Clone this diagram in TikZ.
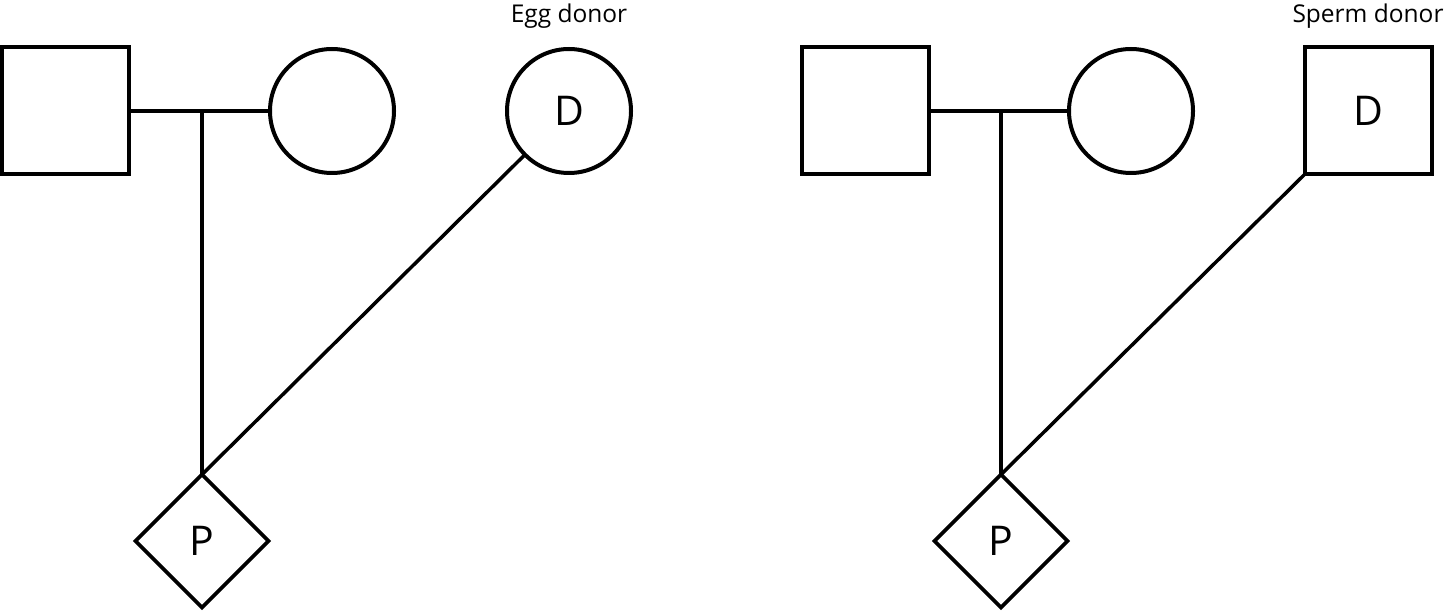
\documentclass[tikz,border=0pt]{standalone}
\usepackage{fontspec}
\setmainfont{Open Sans}
\usetikzlibrary{shapes.geometric}
\begin{document}
\begin{tikzpicture}[x=1pt,y=-1pt,
  sym/.style={draw=black,line width=4pt,inner sep=0pt,outer sep=0pt},
  sq/.style={sym,rectangle,minimum size=127pt},
  ci/.style={sym,circle,minimum size=124pt},
  dm/.style={sym,diamond,minimum size=133pt,line width=3.6pt},
  lbl/.style={font=\fontsize{41}{41}\selectfont},
  caption/.style={font=\fontsize{24.5}{26}\selectfont,inner sep=0pt},
  ln/.style={line width=3.5pt}]
\useasboundingbox (0,0) rectangle (1450,612);
% left pedigree
\node[sq] (F1) at (65.5,111) {};
\node[ci] (M1) at (332,111) {};
\node[ci,lbl] (D1) at (569,111) {D};
\node[dm,lbl] (P1) at (202,541) {P};
\node[caption] (L1) at (569,16) {Egg donor};
\coordinate (m1) at (202,111);
\draw[ln] (F1.east) -- (M1.west);
\draw[ln] (m1) -- (P1.north);
\draw[ln] (P1.north) -- (D1);
% right pedigree
\node[sq] (F2) at (865.5,111) {};
\node[ci] (M2) at (1131,111) {};
\node[sq,lbl] (D2) at (1368,111) {D};
\node[dm,lbl] (P2) at (1001,541) {P};
\node[caption] (L2) at (1368,16) {Sperm donor};
\coordinate (m2) at (1001,111);
\draw[ln] (F2.east) -- (M2.west);
\draw[ln] (m2) -- (P2.north);
\draw[ln] (P2.north) -- (D2.south west);
\end{tikzpicture}
\end{document}
